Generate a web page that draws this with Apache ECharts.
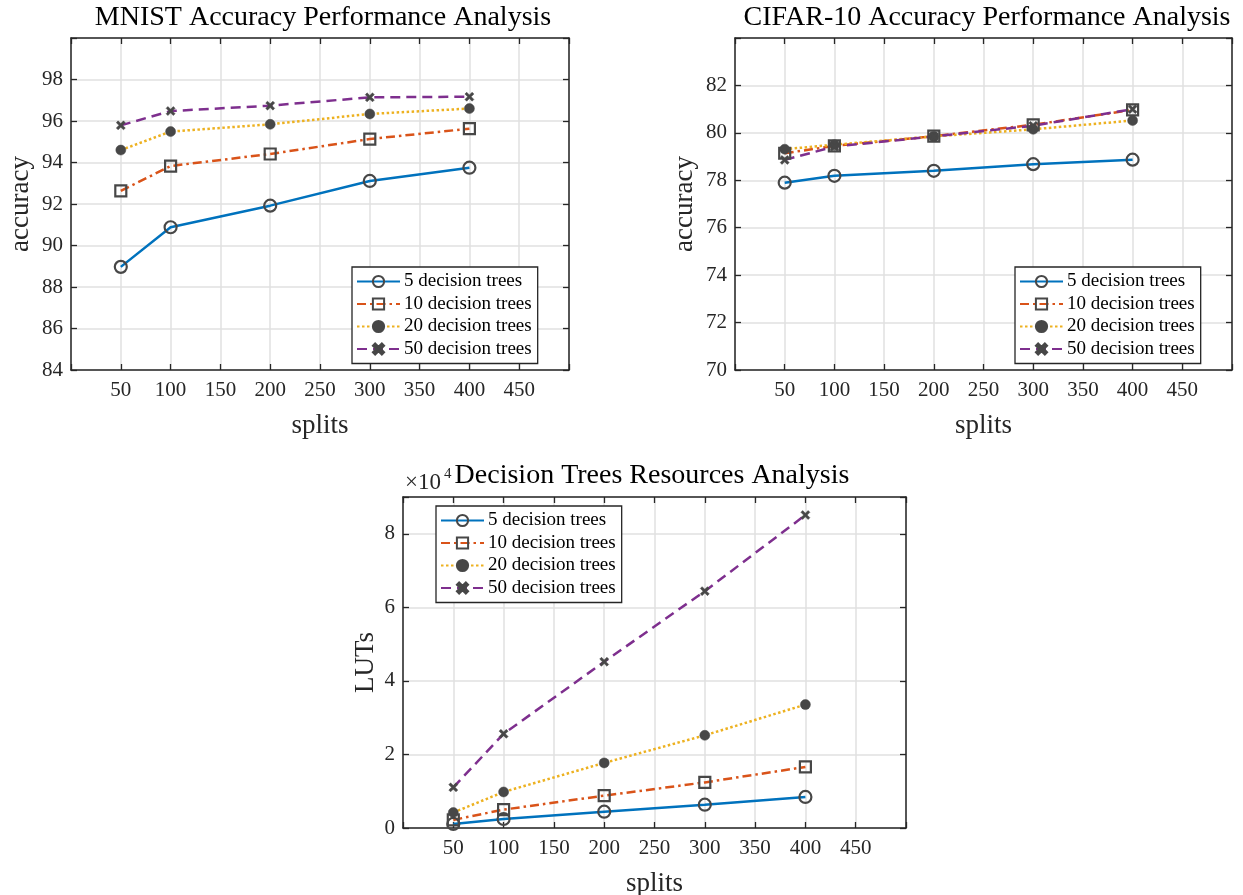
<!DOCTYPE html>
<html>
<head>
<meta charset="utf-8">
<script src="https://cdn.jsdelivr.net/npm/echarts@6/dist/echarts.min.js"></script>
<style>
html,body{margin:0;padding:0;background:#fff;}
#main{width:1243px;height:895px;}
</style>
</head>
<body>
<div id="main"></div>
<script>
const splits = [50, 100, 200, 300, 400];
const seriesNames = ['5 decision trees', '10 decision trees', '20 decision trees', '50 decision trees'];
const mnist5  = [88.97, 90.88, 91.92, 93.11, 93.75];
const mnist10 = [92.63, 93.83, 94.41, 95.13, 95.63];
const mnist20 = [94.60, 95.49, 95.84, 96.34, 96.60];
const mnist50 = [95.79, 96.48, 96.74, 97.14, 97.17];
const cifar5  = [77.90, 78.19, 78.40, 78.68, 78.87];
const cifar10 = [79.14, 79.45, 79.86, 80.34, 80.97];
const cifar20 = [79.31, 79.50, 79.85, 80.15, 80.52];
const cifar50 = [78.86, 79.42, 79.85, 80.30, 81.00];
const luts5  = [1100, 2450, 4440, 6340, 8440];
const luts10 = [2200, 5000, 8800, 12400, 16600];
const luts20 = [4200, 9800, 17700, 25200, 33550];
const luts50 = [11050, 25600, 45200, 64400, 85100];
const titles = ['MNIST Accuracy Performance Analysis', 'CIFAR-10 Accuracy Performance Analysis', 'Decision Trees Resources Analysis'];
const xName = 'splits';
const yNames = ['accuracy', 'accuracy', 'LUTs'];

const FONT = '"Liberation Serif", "DejaVu Serif", serif';
const AX = '#262626';
const MK = '#474747';
const colors = ['#0072BD', '#D95319', '#EDB120', '#7E2F8E'];
const dashes = ['solid', [9, 4, 2.5, 4], [2.5, 2.5], [10, 6]];
const xPath = 'path://M2,0 L5,3 L8,0 L10,2 L7,5 L10,8 L8,10 L5,7 L2,10 L0,8 L3,5 L0,2 Z';
const symbols = ['circle', 'rect', 'circle', xPath];
const symSizes = [12, 11, 10, 9];
const fills = ['rgba(255,255,255,0)', 'rgba(255,255,255,0)', MK, MK];

const grids = [
  {left: 71, top: 38, width: 498, height: 332},
  {left: 735, top: 38, width: 497, height: 332},
  {left: 403, top: 497, width: 503, height: 331}
];
const yRanges = [
  {min: 84, max: 100, interval: 2, hide: 100, fmt: v => v},
  {min: 70, max: 84, interval: 2, hide: 84, fmt: v => v},
  {min: 0, max: 90000, interval: 20000, hide: 90000, fmt: v => v / 10000}
];
const data = [
  [mnist5, mnist10, mnist20, mnist50],
  [cifar5, cifar10, cifar20, cifar50],
  [luts5, luts10, luts20, luts50]
];
const legendPos = [
  {left: 352, top: 267},
  {left: 1015, top: 267},
  {left: 436, top: 506}
];

const xAxis = [], yAxis = [], series = [], legend = [];
function tick() {
  return {show: true, inside: true, length: 6, lineStyle: {color: AX, width: 1.3}};
}
function aline() {
  return {show: true, onZero: false, lineStyle: {color: AX, width: 1.5}};
}
grids.forEach((g, gi) => {
  const base = {type: 'value', gridIndex: gi, min: 0, max: 500, interval: 50};
  xAxis.push(Object.assign({}, base, {
    position: 'bottom', axisLine: aline(), axisTick: tick(),
    name: xName, nameLocation: 'middle', nameGap: 42,
    nameTextStyle: {fontFamily: FONT, fontSize: 27, color: AX},
    axisLabel: {fontFamily: FONT, fontSize: 21, color: AX, margin: 10,
      formatter: v => (v === 0 || v === 500) ? '' : String(v)},
    splitLine: {show: true, lineStyle: {color: '#e0e0e0', width: 1.5}}
  }));
  xAxis.push(Object.assign({}, base, {
    position: 'top', axisLine: aline(), axisTick: tick(), axisLabel: {show: false}, splitLine: {show: false}
  }));
  const r = yRanges[gi];
  const ybase = {type: 'value', gridIndex: gi, min: r.min, max: r.max, interval: r.interval};
  yAxis.push(Object.assign({}, ybase, {
    position: 'left', axisLine: aline(), axisTick: tick(),
    name: yNames[gi], nameLocation: 'middle', nameGap: gi === 2 ? 24 : 37,
    nameTextStyle: {fontFamily: FONT, fontSize: 27, color: AX},
    axisLabel: {fontFamily: FONT, fontSize: 21, color: AX, margin: 8,
      formatter: v => v === r.hide ? '' : String(r.fmt(v))},
    splitLine: {show: true, lineStyle: {color: '#e0e0e0', width: 1.5}}
  }));
  yAxis.push(Object.assign({}, ybase, {
    position: 'right', axisLine: aline(), axisTick: tick(), axisLabel: {show: false}, splitLine: {show: false}
  }));
  data[gi].forEach((vals, si) => {
    series.push({
      type: 'line', name: seriesNames[si],
      xAxisIndex: gi * 2, yAxisIndex: gi * 2,
      data: splits.map((s, i) => [s, vals[i]]),
      symbol: symbols[si], symbolSize: symSizes[si],
      showAllSymbol: true,
      lineStyle: {color: colors[si], width: 2.5, type: dashes[si], cap: 'butt'},
      itemStyle: {color: fills[si], borderColor: MK, borderWidth: si < 2 ? 2.2 : 0.5},
      emphasis: {disabled: true},
      animation: false, z: 3
    });
  });
  legend.push({
    orient: 'vertical', left: legendPos[gi].left, top: legendPos[gi].top,
    data: seriesNames,
    itemWidth: 43, itemHeight: 14, itemGap: 3.5,
    padding: [5, 6, 5, 4],
    backgroundColor: '#fff', borderColor: AX, borderWidth: 1.3, borderRadius: 0,
    textStyle: {fontFamily: FONT, fontSize: 19, color: '#000', lineHeight: 16, padding: [0, 0, 0, -1]},
    selectedMode: false, z: 10
  });
});

const chart = echarts.init(document.getElementById('main'), null, {renderer: 'canvas'});
chart.setOption({
  animation: false,
  backgroundColor: '#fff',
  grid: grids.map(g => Object.assign({containLabel: false, outerBoundsMode: 'none'}, g)),
  xAxis, yAxis, series, legend,
  graphic: [
    {type: 'text', x: 323, y: 18, style: {text: titles[0], font: '28px ' + FONT, fill: '#000', align: 'center', verticalAlign: 'middle'}},
    {type: 'text', x: 987, y: 18, style: {text: titles[1], font: '28px ' + FONT, fill: '#000', align: 'center', verticalAlign: 'middle'}},
    {type: 'text', x: 652, y: 476, style: {text: titles[2], font: '28px ' + FONT, fill: '#000', align: 'center', verticalAlign: 'middle'}},
    {type: 'text', x: 405, y: 483, style: {text: '×10', font: '23px ' + FONT, fill: AX, align: 'left', verticalAlign: 'middle'}},
    {type: 'text', x: 444, y: 474, style: {text: '4', font: '15px ' + FONT, fill: AX, align: 'left', verticalAlign: 'middle'}}
  ]
});
</script>
</body>
</html>
